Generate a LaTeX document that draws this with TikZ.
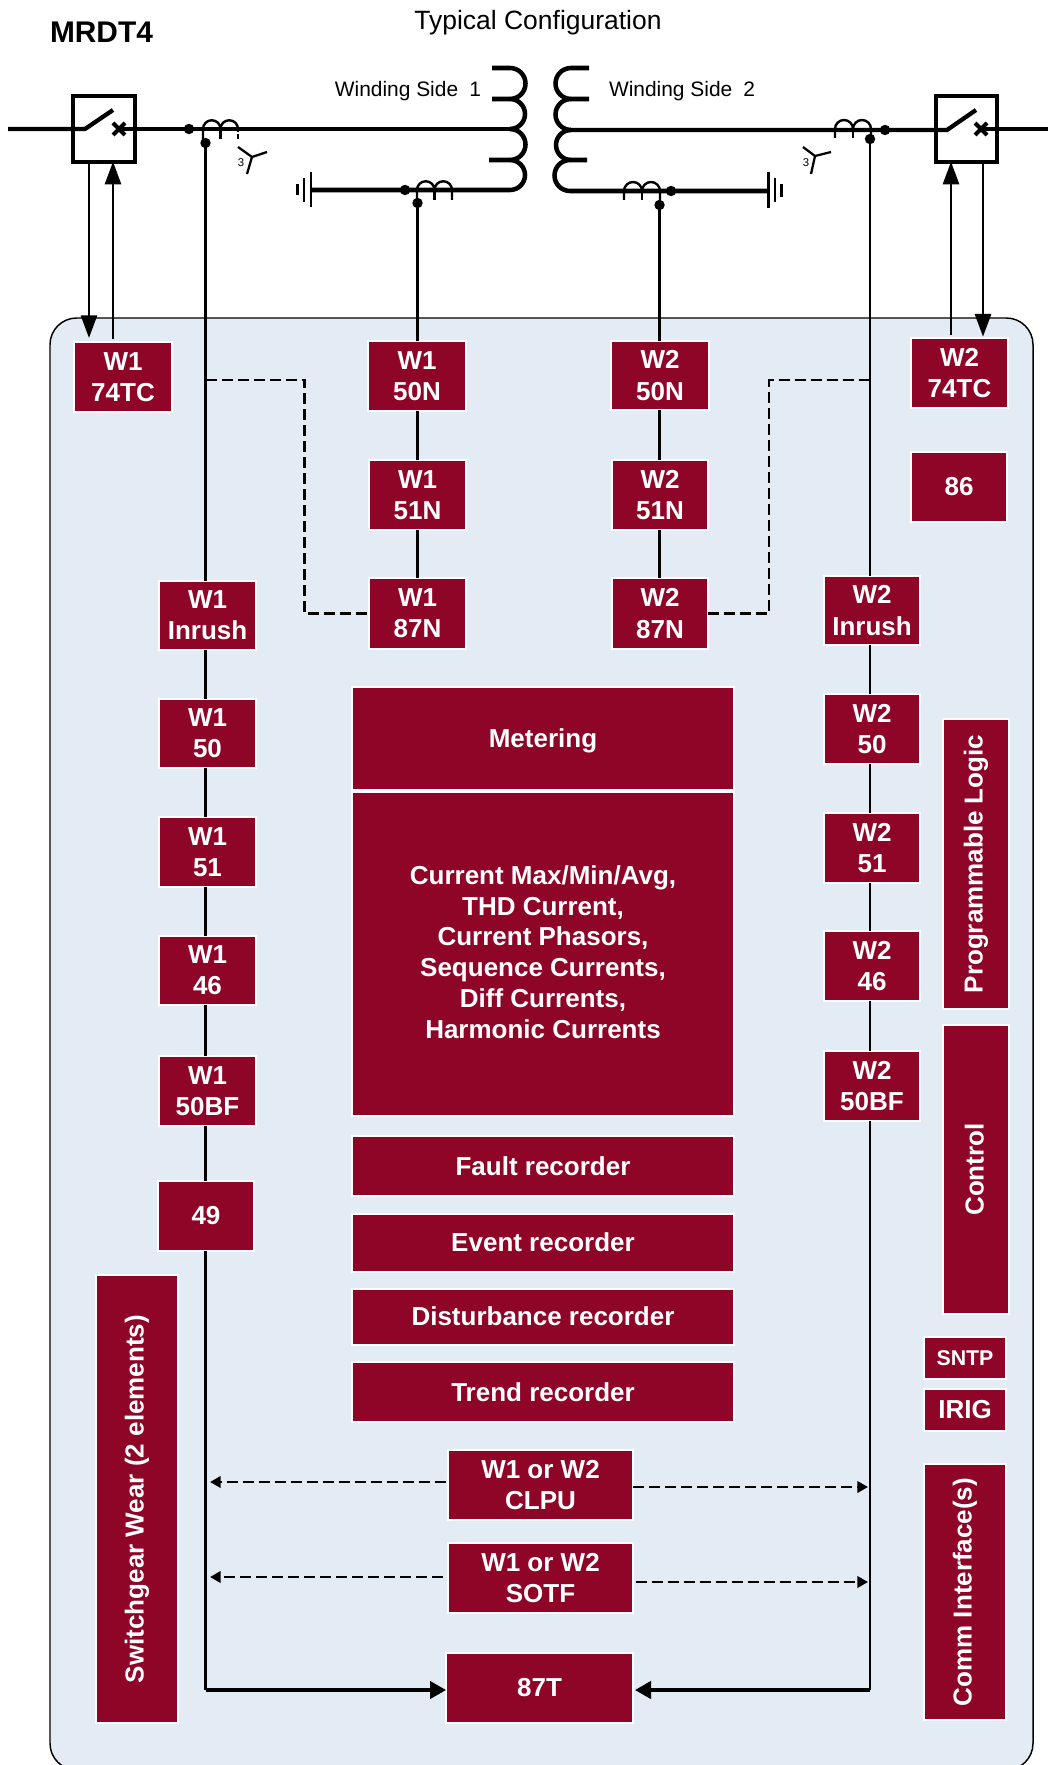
\documentclass[tikz,border=0pt]{standalone}
\usepackage{fontspec}
\setmainfont{Liberation Sans}
\usetikzlibrary{arrows.meta,calc}
\definecolor{relayred}{HTML}{8F0528}
\definecolor{panelblue}{HTML}{E3EBF5}
\tikzset{
  redbox/.style={fill=relayred,draw=white,line width=1.5pt,inner sep=0pt,outer sep=0pt,
    text=white,align=center,font=\fontsize{19.5}{23.5}\bfseries\selectfont},
  redtext/.style={inner sep=0pt,outer sep=0pt,text=white,align=center,font=\fontsize{19.5}{23.1}\bfseries\selectfont},
  thin line/.style={line width=2pt,draw=black},
  bus/.style={line width=3.2pt,draw=black,line cap=butt},
  ctline/.style={line width=1.8pt,draw=black},
  dash line/.style={line width=2pt,draw=black,dash pattern=on 8.25pt off 3.75pt},
  bigtip/.style={-{Triangle[length=17pt,width=12pt]}},
  smalltip/.style={-{Triangle[length=8pt,width=8.5pt]}},
  label text/.style={inner sep=0pt,outer sep=0pt,text=black}
}
% name, x1, y1, x2, y2 (outer limits in pixels), text
\newcommand\bx[6]{\node[redbox,minimum width={(#4-#2-2)*0.75pt},minimum height={(#5-#3-2)*0.75pt}] (#1) at ({(#2+#4)/2},{(#3+#5)/2}) {#6};}
\newcommand\bxr[6]{\node[redbox,rotate=90,minimum width={(#5-#3-2)*0.75pt},minimum height={(#4-#2-2)*0.75pt}] (#1) at ({(#2+#4)/2},{(#3+#5)/2}) {#6};}
\newcommand\nudge[2]{\raisebox{#1}[\height][\depth]{#2}}
\begin{document}
\begin{tikzpicture}[x=0.75pt,y=-0.75pt]
\useasboundingbox (0,0) rectangle (1048,1765);
% panel
\begin{scope}
\clip (0,0) rectangle (1048,1765);
\draw[fill=panelblue,draw=black,line width=1.1pt,rounded corners=20pt] (50,318) rectangle (1033,1770);
\end{scope}

% named points
\coordinate (dotL) at (205.5,143);
\coordinate (dotR) at (870,139);
\coordinate (dotNL) at (417.5,203);
\coordinate (dotNR) at (659.5,205);
\coordinate (busL) at (205.5,1690);
\coordinate (busR) at (870,1690);
\coordinate (dashLa) at (205.5,380);
\coordinate (dashLb) at (304.5,380);
\coordinate (dashRa) at (870,380);
\coordinate (dashRb) at (769,380);

% boxes
\bx{TCa}{73}{341}{173}{413}{W1\\74TC}
\bx{Na}{367}{340}{467}{412}{W1\\50N}
\bx{Nb}{368}{459}{467}{531}{W1\\51N}
\bx{Nc}{368}{577}{467}{650}{W1\\87N}
\bx{Ma}{610}{340}{710}{411}{W2\\50N}
\bx{Mb}{611}{459}{709}{531}{W2\\51N}
\bx{Mc}{611}{577}{709}{650}{W2\\87N}
\bx{TCb}{910}{337}{1009}{409}{W2\\74TC}
\bx{Trip}{910}{451}{1008}{523}{86}
\bx{La}{158}{580}{257}{651}{W1\\Inrush}
\bx{Lb}{158}{698}{257}{769}{W1\\50}
\bx{Lc}{158}{816}{257}{888}{W1\\51}
\bx{Ld}{158}{935}{257}{1006}{W1\\46}
\bx{Le}{158}{1055}{257}{1127}{W1\\50BF}
\bx{Lf}{157}{1180}{255}{1252}{49}
\bx{Ra}{823}{575}{921}{646}{W2\\Inrush}
\bx{Rb}{823}{693}{921}{765}{W2\\50}
\bx{Rc}{823}{812}{921}{884}{W2\\51}
\bx{Rd}{823}{930}{921}{1002}{W2\\46}
\bx{Re}{823}{1050}{921}{1122}{W2\\50BF}
\bx{Meter}{351}{686}{735}{791}{\nudge{-1.7pt}{Metering}}
\bx{Values}{351}{791}{735}{1117}{}
\node[redtext] (ValuesText) at (543,952) {Current Max/Min/Avg,\\THD Current,\\Current Phasors,\\Sequence Currents,\\Diff Currents,\\Harmonic Currents};
\bx{Fault}{351}{1135}{735}{1197}{Fault recorder}
\bx{Event}{351}{1213}{735}{1273}{\nudge{0.7pt}{Event recorder}}
\bx{Dist}{351}{1288}{735}{1346}{\nudge{0.7pt}{Disturbance recorder}}
\bx{Trend}{351}{1361}{735}{1423}{Trend recorder}
\bx{Clpu}{447}{1449}{634}{1521}{W1 or W2\\CLPU}
\bx{Sotf}{447}{1542}{634}{1614}{W1 or W2\\SOTF}
\bx{Diff}{445}{1652}{634}{1724}{87T}
\bxr{Gear}{95}{1274}{179}{1724}{Switchgear Wear (2 elements)}
\bxr{Prog}{942}{718}{1010}{1010}{Programmable Logic}
\bxr{Ctrl}{942}{1024}{1010}{1315}{\nudge{1.2pt}{Control}}
\bx{Sntp}{923}{1336}{1007}{1380}{\fontsize{16}{18}\selectfont SNTP}
\bx{Irig}{923}{1388}{1007}{1432}{IRIG}
\bxr{Comm}{923}{1463}{1007}{1721}{Comm Interface(s)}

% left protection chain
\draw[thin line] (dotL) -- (La.north -| dotL);
\draw[thin line] (La.south -| dotL) -- (Lb.north -| dotL);
\draw[thin line] (Lb.south -| dotL) -- (Lc.north -| dotL);
\draw[thin line] (Lc.south -| dotL) -- (Ld.north -| dotL);
\draw[thin line] (Ld.south -| dotL) -- (Le.north -| dotL);
\draw[thin line] (Le.south -| dotL) -- (Lf.north -| dotL);
\draw[thin line] (Lf.south -| dotL) -- (busL);
\draw[line width=2.4pt,-{Triangle[length=12pt,width=13pt]}] (busL) -- (Diff.west |- busL);
% right protection chain
\draw[thin line] (dotR) -- (Ra.north -| dotR);
\draw[thin line] (Ra.south -| dotR) -- (Rb.north -| dotR);
\draw[thin line] (Rb.south -| dotR) -- (Rc.north -| dotR);
\draw[thin line] (Rc.south -| dotR) -- (Rd.north -| dotR);
\draw[thin line] (Rd.south -| dotR) -- (Re.north -| dotR);
\draw[thin line] (Re.south -| dotR) -- (busR);
\draw[line width=2.4pt,-{Triangle[length=12pt,width=13pt]},shorten >=1.5pt] (busR) -- (Diff.east |- busR);
% neutral chains
\draw[thin line] (dotNL) -- (Na.north -| dotNL);
\draw[thin line] (Na.south -| dotNL) -- (Nb.north -| dotNL);
\draw[thin line] (Nb.south -| dotNL) -- (Nc.north -| dotNL);
\draw[thin line] (dotNR) -- (Ma.north -| dotNR);
\draw[thin line] (Ma.south -| dotNR) -- (Mb.north -| dotNR);
\draw[thin line] (Mb.south -| dotNR) -- (Mc.north -| dotNR);
% restricted earth fault dashed links
\draw[dash line] (dashLa) -- (dashLb) |- (Nc.west);
\draw[dash line] (Mc.east) -| (dashRb) -- (dashRa);
% dashed arrows
\coordinate (cl) at (0,1482); \coordinate (cr) at (0,1487);
\coordinate (sl) at (0,1577); \coordinate (sr) at (0,1582);
\coordinate (tipL) at (210,0); \coordinate (tipR) at (868,0);
\draw[dash line,smalltip,shorten <=1.5pt] (Clpu.west |- cl) -- (tipL |- cl);
\draw[dash line,smalltip] (Clpu.east |- cr) -- (tipR |- cr);
\draw[dash line,smalltip,shorten <=4pt] (Sotf.west |- sl) -- (tipL |- sl);
\draw[dash line,smalltip,shorten <=2pt] (Sotf.east |- sr) -- (tipR |- sr);

% breakers
\node[draw=black,line width=3.2pt,minimum width=47pt,minimum height=49pt,inner sep=0pt,outer sep=0pt] (BrkL) at (104,129) {};
\node[draw=black,line width=3.2pt,minimum width=46pt,minimum height=49pt,inner sep=0pt,outer sep=0pt] (BrkR) at (966.5,129) {};
% trip and close arrows
\coordinate (xa) at (89,0); \coordinate (xb) at (113,0);
\coordinate (xc) at (951,0); \coordinate (xd) at (983,0);
\draw[line width=2pt,bigtip,shorten >=3pt] (BrkL.south -| xa) -- (TCa.north -| xa);
\draw[line width=2pt,bigtip,shorten <=2pt] (TCa.north -| xb) -- (BrkL.south -| xb);
\draw[line width=2pt,bigtip,shorten <=2pt] (TCb.north -| xc) -- (BrkR.south -| xc);
\draw[line width=2pt,bigtip,shorten >=1pt] (BrkR.south -| xd) -- (TCb.north -| xd);

% left power line
\coordinate (bladeLa) at (85,129); \coordinate (bladeLb) at (113,110); \coordinate (markL) at (119,129);
\coordinate (coilLb) at (510,129);
\draw[bus] (8,129) coordinate (feedL) -- (bladeLa) -- (bladeLb);
\draw[bus] (markL) -- (coilLb);
\draw[line width=3pt] ($(markL)+(-6,-6)$) -- ($(markL)+(6,6)$) ($(markL)+(6,-6)$) -- ($(markL)+(-6,6)$);
% right power line
\coordinate (bladeRa) at (947,130); \coordinate (bladeRb) at (976,110); \coordinate (markR) at (981,129);
\coordinate (coilRb) at (571,130);
\draw[bus] (coilRb) -- (bladeRa) -- (bladeRb);
\draw[bus] (markR) -- (1048,129) coordinate (feedR);
\draw[line width=3pt] ($(markR)+(-6,-6)$) -- ($(markR)+(6,6)$) ($(markR)+(6,-6)$) -- ($(markR)+(-6,6)$);

% windings
\draw[line width=3.4pt] (492,68) -- (510,68) arc (-90:90:15.5) -- (492,99);
\draw[line width=3.4pt] (510,99) arc (-90:90:15);
\draw[line width=3.4pt] (510,129) arc (-90:90:15.5);
\draw[line width=3.4pt] (489,160) -- (510,160) arc (-90:90:15) -- (311,190);
\draw[line width=3.4pt] (589,68) -- (571,68) arc (-90:-270:15.5) -- (589,99);
\draw[line width=3.4pt] (571,99) arc (-90:-270:15.5);
\draw[line width=3.4pt] (571,130) arc (-90:-270:15);
\draw[line width=3.4pt] (587,160) -- (570,160) arc (-90:-270:15.5) -- (769,191);

% grounds
\draw[line width=1.7pt] (311,172) -- (311,207) (304,178) -- (304,202);
\draw[line width=1.7pt] (297.5,184) -- (297.5,195);
\draw[line width=1.7pt] (768.5,172) -- (768.5,208) (775,178) -- (775,202);
\draw[line width=1.7pt] (781.5,184) -- (781.5,197);

% current transformers
\draw[ctline] (203,139) -- (203,129) arc (180:360:8.75) arc (180:360:8.75) -- (238.0,132);
\draw[ctline] (220.5,129) -- (220.5,139);
\draw[ctline] (238,134) -- (238,139);
\draw[ctline] (417,200) -- (417,190) arc (180:360:8.75) arc (180:360:8.75) -- (452,200);
\draw[ctline] (434.5,190) -- (434.5,200);
\draw[ctline] (624,200) -- (624,191) arc (180:360:9) arc (180:360:9) -- (660,200);
\draw[ctline] (642,191) -- (642,200);
\draw[ctline] (835,138) -- (835,129) arc (180:360:9) arc (180:360:9) -- (871,138);
\draw[ctline] (853,129) -- (853,138);

% dots
\foreach \p in {dotL,dotR,dotNL,dotNR} \fill (\p) circle (5.2);
\fill (189,129) circle (5.2);
\fill (405,190) circle (5.2);
\fill (671,191) circle (5.2);
\fill (885,130) circle (5.2);

% star symbols
\draw[line width=1.7pt] (238,147) -- (252,157) -- (267,152) (252,157) -- (247,174);
\node[label text,font=\fontsize{8.5}{10}\selectfont] (threeL) at (241,162.5) {3};
\draw[line width=1.7pt] (803,147) -- (815,156) -- (831,152) (815,156) -- (811,174);
\node[label text,font=\fontsize{8.5}{10}\selectfont] (threeR) at (806,162.5) {3};

% titles
\node[label text,anchor=west,font=\fontsize{22.4}{26}\bfseries\selectfont] (title) at (50,32) {MRDT4};
\node[label text,font=\fontsize{19.85}{23}\selectfont] (typical) at (538,23) {Typical Configuration};
\node[label text,anchor=east,font=\fontsize{15.7}{19}\selectfont] (sideA) at (481,91) {Winding Side\hspace{4pt} 1};
\node[label text,anchor=west,font=\fontsize{15.7}{19}\selectfont] (sideB) at (609,91) {Winding Side\hspace{4pt} 2};
\end{tikzpicture}
\end{document}
